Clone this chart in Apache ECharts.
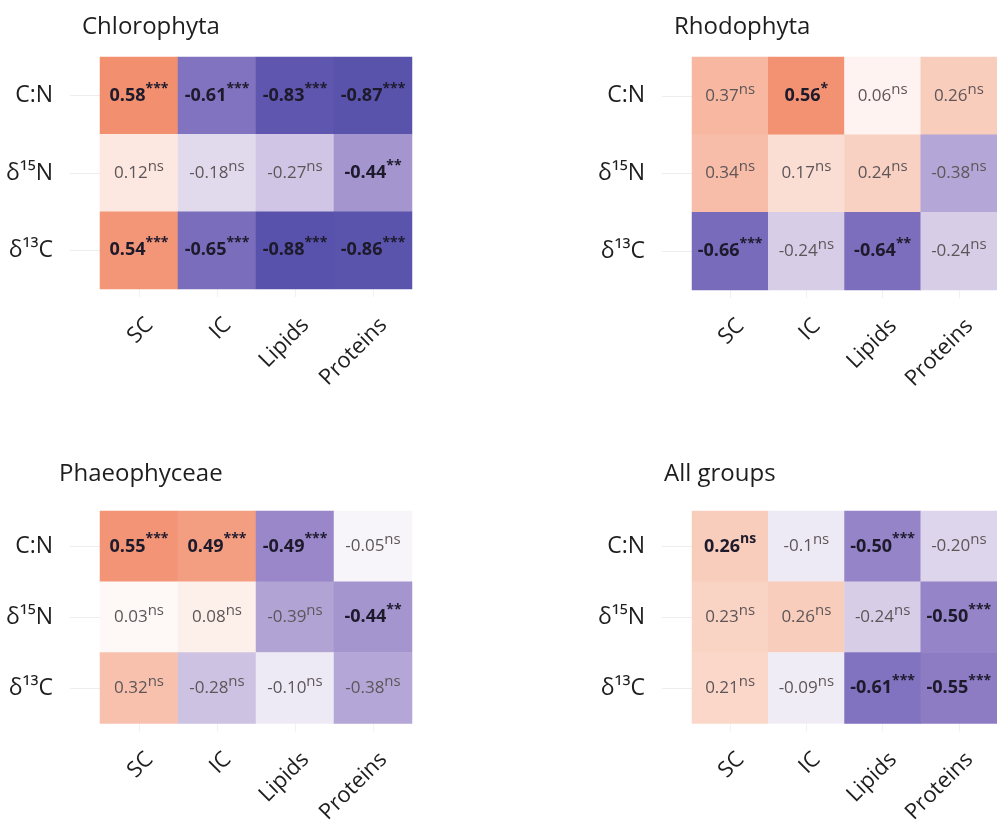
<!DOCTYPE html>
<html>
<head>
<meta charset="utf-8">
<script src="https://cdn.jsdelivr.net/npm/echarts@6/dist/echarts.min.js"></script>
<style>
  html, body { margin: 0; padding: 0; background: #ffffff; }
  #chart { width: 997px; height: 829px; }
</style>
</head>
<body>
<div id="chart"></div>
<script>
// Correlation heatmaps: elemental/isotopic traits vs. biochemical fractions
const xCats = ['SC', 'IC', 'Lipids', 'Proteins'];
const yCats = ['C:N', 'δ¹⁵N', 'δ¹³C'];
const panelTitles = ['Chlorophyta', 'Rhodophyta', 'Phaeophyceae', 'All groups'];

// r values, one row per trait (C:N, δ15N, δ13C)
const chlorophytaR = [['0.58', '-0.61', '-0.83', '-0.87'],
                      ['0.12', '-0.18', '-0.27', '-0.44'],
                      ['0.54', '-0.65', '-0.88', '-0.86']];
const rhodophytaR  = [['0.37', '0.56', '0.06', '0.26'],
                      ['0.34', '0.17', '0.24', '-0.38'],
                      ['-0.66', '-0.24', '-0.64', '-0.24']];
const phaeophyceaeR = [['0.55', '0.49', '-0.49', '-0.05'],
                       ['0.03', '0.08', '-0.39', '-0.44'],
                       ['0.32', '-0.28', '-0.10', '-0.38']];
const allGroupsR   = [['0.26', '-0.1', '-0.50', '-0.20'],
                      ['0.23', '0.26', '-0.24', '-0.50'],
                      ['0.21', '-0.09', '-0.61', '-0.55']];

// significance codes
const chlorophytaSig = [['***', '***', '***', '***'], ['ns', 'ns', 'ns', '**'], ['***', '***', '***', '***']];
const rhodophytaSig  = [['ns', '*', 'ns', 'ns'], ['ns', 'ns', 'ns', 'ns'], ['***', 'ns', '**', 'ns']];
const phaeophyceaeSig = [['***', '***', '***', 'ns'], ['ns', 'ns', 'ns', '**'], ['ns', 'ns', 'ns', 'ns']];
const allGroupsSig   = [['ns', 'ns', '***', 'ns'], ['ns', 'ns', 'ns', '***'], ['ns', 'ns', '***', '***']];

// labels printed in bold although not significant: [panel, row, col]
const boldNs = [[3, 0, 0]];

const panelR = [chlorophytaR, rhodophytaR, phaeophyceaeR, allGroupsR];
const panelSig = [chlorophytaSig, rhodophytaSig, phaeophyceaeSig, allGroupsSig];

const FONT = '"Open Sans", "Noto Sans", sans-serif';
const grids = [
  { left: 100, top: 57, width: 312, height: 232 },
  { left: 692, top: 57, width: 310, height: 233 },
  { left: 100, top: 511, width: 312, height: 233 },
  { left: 692, top: 511, width: 310, height: 233 }
];
const titlePos = [
  { left: 77, top: 10 },
  { left: 669, top: 10 },
  { left: 54, top: 457 },
  { left: 659, top: 457 }
];

const rich = {
  b:  { fontFamily: FONT, fontWeight: 'bold', fontSize: 18, color: '#1d1a2c', lineHeight: 28 },
  bs: { fontFamily: FONT, fontWeight: 'bold', fontSize: 14, color: '#1d1a2c', lineHeight: 14, verticalAlign: 'top' },
  n:  { fontFamily: FONT, fontWeight: 'normal', fontSize: 17, color: '#5e5558', lineHeight: 28 },
  ns: { fontFamily: FONT, fontWeight: 'normal', fontSize: 15, color: '#5e5558', lineHeight: 15, verticalAlign: 'top' }
};

function isBold(p, r, c) {
  if (panelSig[p][r][c] !== 'ns') return true;
  return boldNs.some(b => b[0] === p && b[1] === r && b[2] === c);
}

const title = [], grid = [], xAxis = [], yAxis = [], series = [];
panelR.forEach((mat, p) => {
  title.push({
    text: panelTitles[p], left: titlePos[p].left, top: titlePos[p].top,
    textStyle: { fontFamily: FONT, fontSize: 24, fontWeight: 'normal', color: '#1e1e1e' }
  });
  grid.push(grids[p]);
  xAxis.push({
    type: 'category', gridIndex: p, data: xCats, position: 'bottom',
    axisLine: { show: false },
    axisTick: { show: true, length: 8, alignWithLabel: true, lineStyle: { color: '#f1f1f1' } },
    axisLabel: {
      rotate: 45, margin: 22, fontFamily: FONT, fontSize: 22, color: '#1e1e1e',
      verticalAlign: 'top', lineHeight: 30
    },
    splitLine: { show: false }
  });
  yAxis.push({
    type: 'category', gridIndex: p, data: yCats, inverse: true,
    axisLine: { show: false },
    axisTick: { show: true, length: 30, alignWithLabel: true, lineStyle: { color: '#ededed' } },
    axisLabel: { margin: 47, fontFamily: FONT, fontSize: 23, color: '#1e1e1e' },
    splitLine: { show: false }
  });
  const data = [];
  mat.forEach((row, r) => row.forEach((s, c) => {
    data.push({ value: [c, r, Number(s)], txt: s, sig: panelSig[p][r][c], bold: isBold(p, r, c) });
  }));
  series.push({
    type: 'heatmap', xAxisIndex: p, yAxisIndex: p, data: data,
    label: {
      show: true,
      formatter: (prm) => {
        const d = prm.data;
        return d.bold ? `{b|${d.txt}}{bs|${d.sig}}` : `{n|${d.txt}}{ns|${d.sig}}`;
      },
      rich: rich
    },
    emphasis: { disabled: true }
  });
});

const chart = echarts.init(document.getElementById('chart'), null, { renderer: 'canvas' });
chart.setOption({
  animation: false,
  backgroundColor: '#ffffff',
  title, grid, xAxis, yAxis, series,
  visualMap: {
    type: 'continuous', show: false, min: -1, max: 1, dimension: 2,
    seriesIndex: [0, 1, 2, 3],
    inRange: {
      color: ['#4a48a4', '#675db4', '#9684c8', '#d5cbe6', '#ffffff',
              '#f9cfbf', '#f49c7e', '#ec7250', '#e04a2a']
    }
  }
});
</script>
</body>
</html>
